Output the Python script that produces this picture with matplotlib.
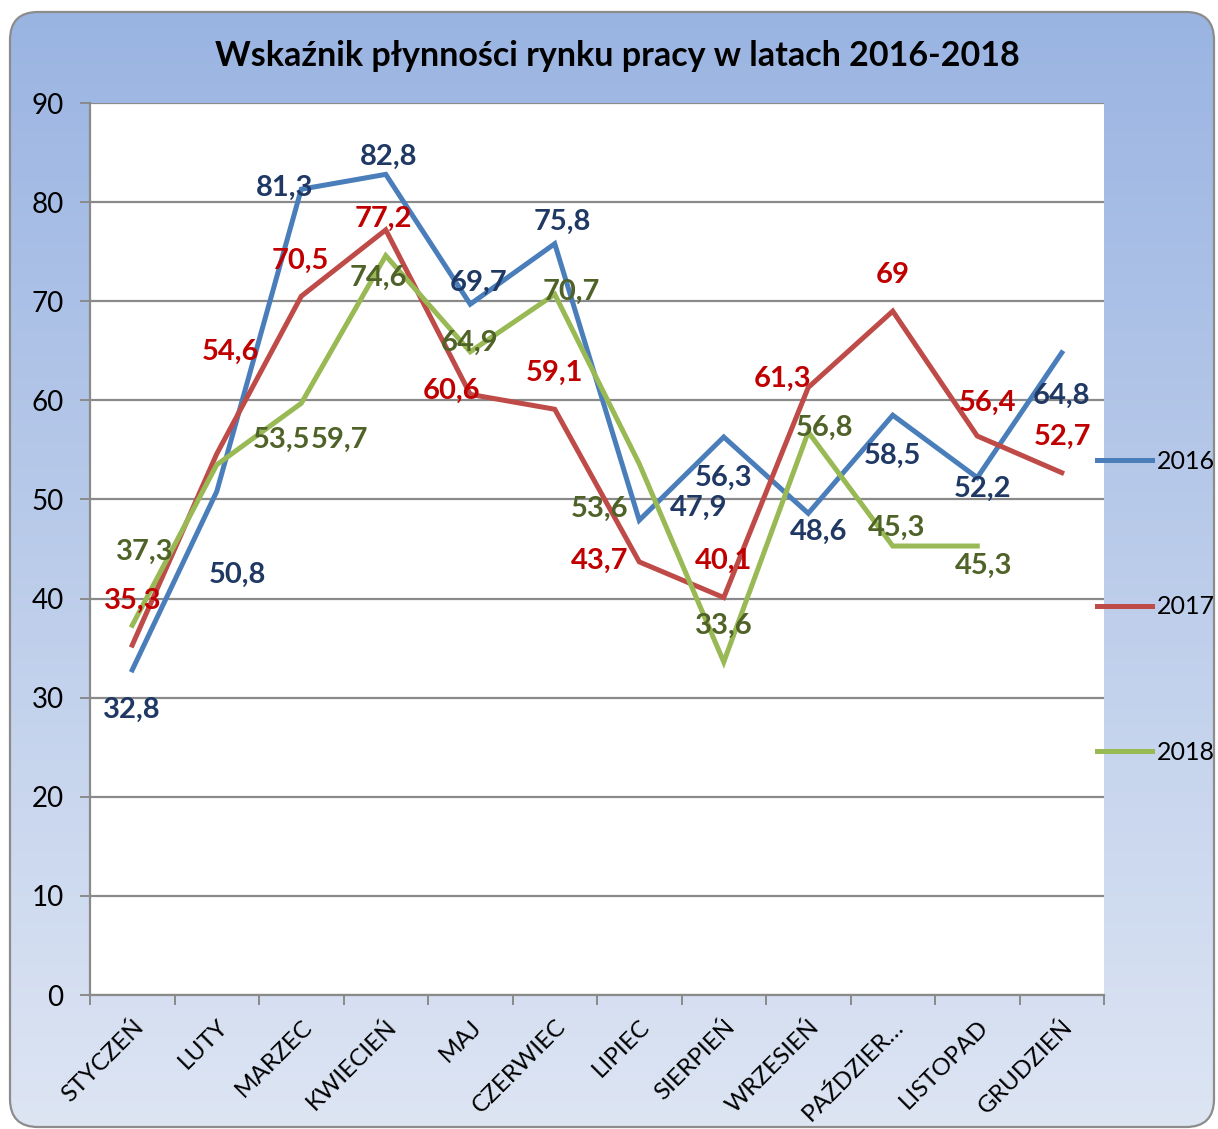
import numpy as np
import matplotlib
matplotlib.use("Agg")
import matplotlib.pyplot as plt
from matplotlib.patches import FancyBboxPatch

plt.rcParams['font.family'] = ['Lato', 'DejaVu Sans']

# dane
miesiace = ['STYCZEŃ', 'LUTY', 'MARZEC', 'KWIECIEŃ', 'MAJ', 'CZERWIEC', 'LIPIEC',
            'SIERPIEŃ', 'WRZESIEŃ', 'PAŹDZIER…', 'LISTOPAD', 'GRUDZIEŃ']
w2016 = [32.8, 50.8, 81.3, 82.8, 69.7, 75.8, 47.9, 56.3, 48.6, 58.5, 52.2, 64.8]
w2017 = [35.3, 54.6, 70.5, 77.2, 60.6, 59.1, 43.7, 40.1, 61.3, 69, 56.4, 52.7]
w2018 = [37.3, 53.5, 59.7, 74.6, 64.9, 70.7, 53.6, 33.6, 56.8, 45.3, 45.3]
lata = ['2016', '2017', '2018']

# przesunięcia etykiet (piksele)
off2016 = [(0, -40), (21, -83), (-17, 1), (3, 18), (8, 21), (8, 22),
           (59, 12), (0, -41), (10, -19), (0, -41), (5, -11), (0, -43)]
off2017 = [(1, 44), (14, 102), (-1, 35), (-2, 11), (-19, 4), (0, 36),
           (-40, 1), (0, 37), (-26, 9), (0, 36), (10, 33), (1, 36)]
off2018 = [(13, 73), (65, 25), (38, -37), (-7, -22), (-1, 9), (17, 2),
           (-40, -45), (0, 36), (16, 4), (4, 18), (6, -20)]

kolory_linii = ['#4A7EBB', '#BE4B48', '#98B954']
kolory_etykiet = ['#1F3864', '#C00000', '#4F6228']

W, H = 1218, 1129
fig = plt.figure(figsize=(W / 100, H / 100), dpi=100)
fig.patch.set_facecolor('white')

# tło z gradientem i zaokrąglonymi rogami
bg = fig.add_axes([0, 0, 1, 1], zorder=-5)
bg.set_xlim(0, W)
bg.set_ylim(0, H)
bg.axis('off')
box = FancyBboxPatch((10, 2), 1204, 1115, boxstyle="round,pad=0,rounding_size=28",
                     facecolor='none', edgecolor='#8C8C8C', linewidth=1.6)
bg.add_patch(box)
top = np.array([0x9A, 0xB4, 0xE2]) / 255
bot = np.array([0xDD, 0xE5, 0xF3]) / 255
t = np.linspace(0, 1, 256)[:, None]
grad = (top[None, :] * (1 - t) + bot[None, :] * t)[:, None, :]
im = bg.imshow(grad, extent=(10, 1214, 2, 1117), aspect='auto', origin='upper', zorder=0)
im.set_clip_path(box)

ax = fig.add_axes([90 / W, 1 - 995 / H, (1104 - 90) / W, (995 - 103) / H])
ax.set_facecolor('white')
x = np.arange(len(miesiace))

serie = [w2016, w2017, w2018]
offs = [off2016, off2017, off2018]
for vals, off, lc, tc, lab in zip(serie, offs, kolory_linii, kolory_etykiet, lata):
    xi = np.arange(len(vals))
    ax.plot(xi, vals, color=lc, lw=3.6, label=lab, zorder=3, solid_joinstyle='miter')
    for i, v in enumerate(vals):
        txt = f"{v:g}".replace('.', ',')
        ax.annotate(txt, (xi[i], v), xytext=off[i], textcoords='offset pixels',
                    ha='center', va='center', color=tc, fontsize=21,
                    fontweight='bold', zorder=5)

ax.set_xlim(-0.5, 11.5)
ax.set_ylim(0, 90)
ax.set_yticks(range(0, 91, 10))
ax.yaxis.grid(True, color='#8A8A8A', lw=1.6)
ax.set_axisbelow(True)
ax.set_xticks(x)
ax.set_xticklabels(miesiace, rotation=45, ha='right', rotation_mode='anchor', fontsize=17.5)
ax.set_xticks(np.arange(-0.5, 12, 1), minor=True)
ax.tick_params(axis='x', which='major', length=0, pad=15)
ax.tick_params(axis='x', which='minor', length=7, color='#8A8A8A', width=1.4)
ax.tick_params(axis='y', length=7, color='#8A8A8A', width=1.4, labelsize=20, pad=12)
for s in ['top', 'right']:
    ax.spines[s].set_visible(False)
for s in ['left', 'bottom']:
    ax.spines[s].set_color('#8A8A8A')
    ax.spines[s].set_linewidth(1.6)

fig.text(617 / W, 1 - 56 / H, 'Wskaźnik płynności rynku pracy w latach 2016-2018',
         ha='center', va='center', fontsize=24.5, fontweight='bold')

leg = fig.legend(loc='center left', bbox_to_anchor=(1097 / W, 1 - 607 / H), frameon=False,
                 fontsize=18, handlelength=2.2, labelspacing=4.9, handletextpad=0.2,
                 borderpad=0, borderaxespad=0)

fig.savefig('out.png', dpi=100, facecolor='white')
